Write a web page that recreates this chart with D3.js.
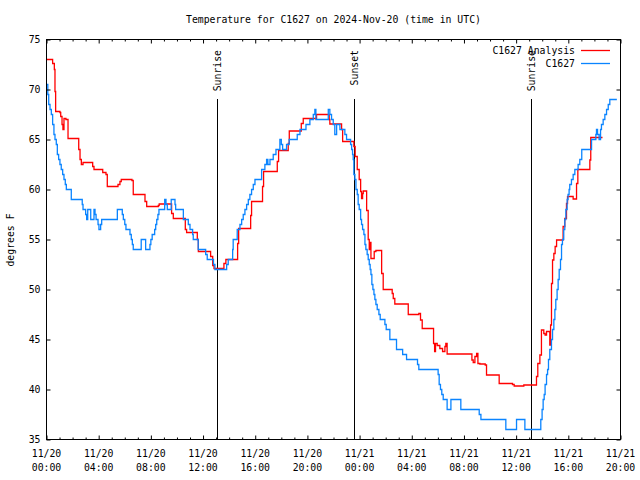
<!DOCTYPE html>
<html><head><meta charset="utf-8">
<script src="https://cdn.jsdelivr.net/npm/d3@7"></script>
<style>
body{margin:0;background:#fff;}
text{font-family:"DejaVu Sans Mono","Liberation Mono",monospace;font-size:9.8px;fill:#000;}
</style></head>
<body><svg id="chart" width="640" height="480"></svg>
<script>
// ---- data ----
const titleText = "Temperature for C1627 on 2024-Nov-20 (time in UTC)";
const yLabelText = "degrees F";
const yTicks = [35, 40, 45, 50, 55, 60, 65, 70, 75];
const xMajorHours = [0, 4, 8, 12, 16, 20, 24, 28, 32, 36, 40, 44];
const xTickDates = ["11/20","11/20","11/20","11/20","11/20","11/20","11/21","11/21","11/21","11/21","11/21","11/21"];
const xTickTimes = ["00:00","04:00","08:00","12:00","16:00","20:00","00:00","04:00","08:00","12:00","16:00","20:00"];
const eventHours = [13.09, 23.59, 37.15];
const eventLabels = ["Sunrise", "Sunset", "Sunrise"];
const seriesNames = ["C1627 Analysis", "C1627"];

// hours since 2024-11-20 00:00 UTC
const analysisHours = [0,0.47,0.6,0.65,0.7,1.03,1.09,1.19,1.26,1.34,1.49,1.65,2.47,2.57,2.67,2.8,3.54,3.64,4.31,4.56,4.66,5.48,5.63,5.73,6.55,6.65,7.55,7.68,8.57,8.64,9.59,9.72,10.64,10.74,11.56,11.64,12.58,12.74,12.84,13.6,13.75,14.65,14.73,15.65,15.72,16.56,16.64,17.69,17.79,18.53,18.61,19.53,19.68,20.7,21.67,21.72,22.62,22.7,23.56,23.66,23.82,23.97,24.08,24.15,24.23,24.28,24.54,24.66,24.74,24.79,24.87,25.12,25.25,25.69,25.81,26.5,26.58,26.7,27.73,28.54,28.67,28.8,29.67,29.75,29.82,29.95,30.15,30.36,30.54,30.61,30.71,32.61,32.71,32.84,32.97,33.07,33.22,33.63,33.73,34.7,35.72,35.85,36.59,37.56,37.66,37.82,37.94,38.12,38.22,38.33,38.58,38.64,38.71,38.79,38.89,38.99,39.1,39.6,39.73,39.86,39.94,40.37,40.63,40.73,41.65,41.72,42.62];
const analysisTemps = [73,72.6,72.0,69.8,67.8,67.7,67.3,66.5,66.0,67.1,67.0,65.1,64.0,63.0,62.5,62.7,62.3,62.0,61.7,61.5,60.3,60.5,60.8,61.0,60.9,59.5,58.8,58.3,58.4,58.55,57.6,57.1,56.0,55.7,55.0,53.8,53.3,52.4,52.1,52.6,53.0,54.6,56.1,57.4,58.8,60.3,61.8,62.8,63.9,64.6,65.85,66.6,67.1,67.5,67.0,66.55,66.0,64.8,64.3,63.3,62.0,61.0,59.8,59.1,59.6,59.85,57.9,55.0,54.0,54.7,53.1,53.8,53.9,51.6,50.0,49.6,49.1,48.55,47.5,47.6,46.95,46.1,44.6,43.8,44.6,44.4,44.1,43.8,44.3,44.6,43.55,42.95,42.7,43.3,43.6,42.6,42.55,42.45,41.45,40.6,40.5,40.35,40.45,41.3,42.6,43.45,45.95,45.6,45.45,45.8,44.45,46.45,50.6,52.95,53.6,54.3,54.95,56.3,57.1,58.6,59.3,59.05,60.6,62.0,62.95,65.2,65.2];

const obsHours = [0,0.1,0.17,0.27,0.37,0.47,0.57,0.65,0.75,0.83,0.93,1.03,1.13,1.24,1.34,1.44,1.52,1.9,2.74,2.8,3.0,3.08,3.16,3.39,3.64,3.72,3.8,3.95,4.02,4.15,4.23,5.43,5.81,5.89,6.0,6.09,6.4,6.5,6.58,6.65,7.26,7.6,7.93,8.0,8.1,8.29,8.37,8.45,8.54,8.62,9.06,9.16,9.26,9.56,9.85,9.9,10.49,10.87,11.0,11.2,11.25,11.63,12.2,12.32,12.8,12.91,13.81,13.93,14.27,14.31,14.62,14.83,14.96,15.08,15.21,15.34,15.47,15.59,15.72,15.85,15.98,16.49,16.74,16.87,16.97,17.13,17.38,17.59,17.89,18.0,18.1,18.4,18.6,19.22,19.43,19.89,20.19,20.45,20.57,20.65,21.6,21.72,21.85,21.98,22.1,22.24,22.49,22.87,23.0,23.31,23.39,23.46,23.51,23.56,23.64,23.72,23.82,23.89,23.97,24.08,24.15,24.23,24.33,24.41,24.48,24.58,24.66,24.74,24.81,24.87,24.94,25.02,25.1,25.17,25.25,25.35,25.48,25.58,25.94,26.04,26.32,26.83,27.3,27.6,28.44,28.54,30.02,30.1,30.2,30.3,30.41,30.71,31.0,31.76,33.17,33.3,35.21,36.03,36.67,37.89,37.99,38.07,38.15,38.22,38.33,38.41,38.48,38.58,38.71,38.79,38.89,38.97,39.04,39.14,39.22,39.3,39.4,39.48,39.55,39.65,39.73,39.81,39.91,39.98,40.06,40.11,40.24,40.37,40.5,40.75,40.88,41.03,41.78,42.11,42.16,42.24,42.36,42.47,42.54,42.67,42.8,42.93,43.06,43.18,43.72];
const obsTemps = [70.5,69.5,68.5,68,67.5,66.5,65.5,65,64.5,63.5,63,62.5,62,61.5,61,60.5,60,59,58.5,58,57.5,57,58,57,58,57.5,57,56.5,56,56.5,57,58,57.5,57,56.5,56,55.5,55,54.5,54,55,54,54.5,55,55.5,56,56.5,57,57.5,58,59,58.5,58,59,58.5,58,57,56.5,56,55.5,55,54,53.5,53,52.5,52,52.5,53,54,55,56,56.5,57,57.5,58,58.5,59,59.5,60,60.5,61,62,62.5,63,62.5,63,63.5,64,65,64.5,64,64.5,65,65.5,66,66.5,67,67.5,68,67,68,67.5,67,66.5,65.5,66.5,66,65.5,65,64.5,64,63.5,63,61.5,61,60,59.5,58.5,58,57,56.5,56,55.5,54.5,54,53.5,53,52.5,52,51.5,50.5,50,49.5,49,48.5,48,47.5,47,46.5,46,45,44,43.5,43,42.5,42,41.5,40.5,40,39.5,39,38,39,38,37.5,37,36,37,36,37,38,39,39.5,40.5,41.5,42,43,44,45,46,47,48,49,50,51,52,53,54.5,55,56,57,58,59,59.5,60,60.5,61,61.5,62,62.5,63,64,65,65.5,66,65.5,65,66,66.5,67,67.5,68,68.5,69,69];

// ---- chart ----
const svg = d3.select("#chart");
const L = 46.5, R = 620.5, T = 39.5, B = 439.5;
const x = d3.scaleLinear().domain([0, 44]).range([L, R]);
const y = d3.scaleLinear().domain([35, 75]).range([B, T]);
const red = "#ff0000", blue = "#0a84ff";

svg.append("rect").attr("width", 640).attr("height", 480).attr("fill", "#fff");

// title
svg.append("text").attr("x", (L + R) / 2).attr("y", 23).attr("text-anchor", "middle").text(titleText);
// y label
svg.append("text").attr("transform", "translate(14,240) rotate(-90)").attr("text-anchor", "middle").text(yLabelText);

// sun events
const ev = svg.append("g");
eventHours.forEach((h, i) => {
  const xp = Math.round(x(h)) + 0.5;
  ev.append("line").attr("x1", xp).attr("x2", xp).attr("y1", 99).attr("y2", B)
    .attr("stroke", "#000").attr("stroke-width", 1);
  ev.append("text").attr("transform", `translate(${xp + 3.5},50) rotate(-90)`)
    .attr("text-anchor", "end").text(eventLabels[i]);
});

// series
const line = d3.line().x(d => x(d[0])).y(d => y(d[1])).curve(d3.curveStepAfter);
const analysis = analysisHours.map((h, i) => [h, analysisTemps[i]]);
const obs = obsHours.map((h, i) => [h, obsTemps[i]]);
svg.append("path").datum(analysis).attr("d", line).attr("fill", "none")
  .attr("stroke", red).attr("stroke-width", 1.3);
svg.append("path").datum(obs).attr("d", line).attr("fill", "none")
  .attr("stroke", blue).attr("stroke-width", 1.3);

// axes
const minorHours = d3.range(0, 45, 1).filter(h => h % 4 !== 0);
const xb = d3.axisBottom(x).tickValues(xMajorHours).tickSize(-4).tickPadding(9)
  .tickFormat(() => "");
const gxb = svg.append("g").attr("transform", `translate(0,${B})`).call(xb);
gxb.select(".domain").remove();
gxb.selectAll(".tick text").remove();
xMajorHours.forEach((h, i) => {
  const t = svg.append("text").attr("text-anchor", "middle");
  t.append("tspan").attr("x", x(h)).attr("y", 457).text(xTickDates[i]);
  t.append("tspan").attr("x", x(h)).attr("y", 471).text(xTickTimes[i]);
});
const xbm = d3.axisBottom(x).tickValues(minorHours).tickSize(-2).tickFormat(() => "");
svg.append("g").attr("transform", `translate(0,${B})`).call(xbm).select(".domain").remove();
const xt = d3.axisTop(x).tickValues(xMajorHours).tickSize(-4).tickFormat(() => "");
svg.append("g").attr("transform", `translate(0,${T})`).call(xt).select(".domain").remove();
const xtm = d3.axisTop(x).tickValues(minorHours).tickSize(-2).tickFormat(() => "");
svg.append("g").attr("transform", `translate(0,${T})`).call(xtm).select(".domain").remove();

const yl = d3.axisLeft(y).tickValues(yTicks).tickSize(-4).tickPadding(7).tickFormat(d3.format("d"));
const gyl = svg.append("g").attr("transform", `translate(${L},0)`).call(yl);
gyl.select(".domain").remove();
gyl.selectAll("text").attr("font-family", null).attr("font-size", null).attr("x", -6);
const yr = d3.axisRight(y).tickValues(yTicks).tickSize(-4).tickFormat(() => "");
svg.append("g").attr("transform", `translate(${R},0)`).call(yr).select(".domain").remove();
svg.selectAll(".tick line").attr("stroke", "#000");

// border
svg.append("rect").attr("x", L).attr("y", T).attr("width", R - L).attr("height", B - T)
  .attr("fill", "none").attr("stroke", "#000").attr("stroke-width", 1);

// legend
const lg = svg.append("g");
[red, blue].forEach((c, i) => {
  const yy = 50 + i * 13;
  lg.append("text").attr("x", 575).attr("y", yy + 3.5).attr("text-anchor", "end").text(seriesNames[i]);
  lg.append("line").attr("x1", 581).attr("x2", 610).attr("y1", yy + 0.5).attr("y2", yy + 0.5)
    .attr("stroke", c).attr("stroke-width", 1.3);
});
</script></body></html>
